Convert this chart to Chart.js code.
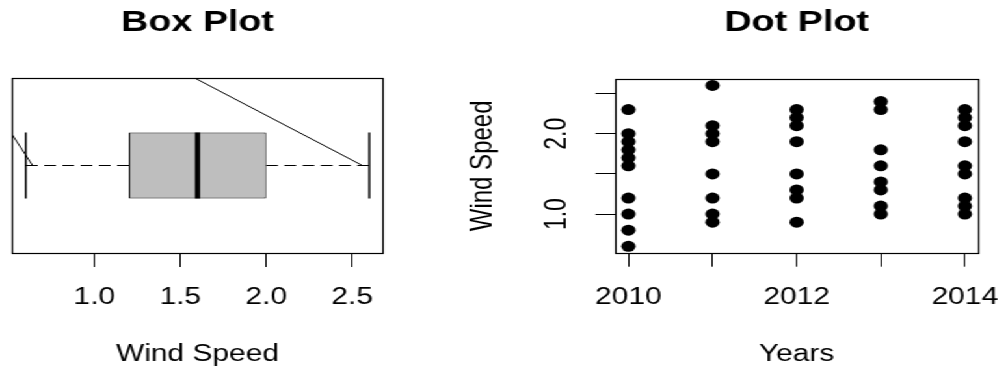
<!DOCTYPE html>
<html>
<head>
<meta charset="utf-8">
<script src="https://cdn.jsdelivr.net/npm/chart.js@4"></script>
<style>
  html, body { margin: 0; padding: 0; background: #fff; overflow: hidden; }
  /* the reference is stretched sideways, so draw narrow and widen */
  #wrap { position: absolute; left: 0; top: 0; width: 775px; height: 370px;
          display: flex; transform: scaleX(1.30065); transform-origin: 0 0; }
  canvas { display: block; }
</style>
</head>
<body>
<div id="wrap">
  <canvas id="boxChart" width="340" height="370" style="width:340px;height:370px"></canvas>
  <canvas id="dotChart" width="435" height="370" style="width:435px;height:370px"></canvas>
</div>
<script>
//----DATA----
const years = [2010, 2011, 2012, 2013, 2014];
const speed2010 = [2.3, 2.0, 1.9, 1.8, 1.7, 1.6, 1.2, 1.0, 0.8, 0.6];
const speed2011 = [2.6, 2.1, 2.0, 1.9, 1.5, 1.2, 1.0, 0.9];
const speed2012 = [2.3, 2.2, 2.1, 1.9, 1.5, 1.3, 1.2, 0.9];
const speed2013 = [2.4, 2.3, 1.8, 1.6, 1.4, 1.3, 1.1, 1.0];
const speed2014 = [2.3, 2.2, 2.1, 1.9, 1.6, 1.5, 1.2, 1.1, 1.0];
const speedsByYear = [speed2010, speed2011, speed2012, speed2013, speed2014];

// min, Q1, median, Q3, max
const boxStats = [0.6, 1.2, 1.6, 2.0, 2.6];
const boxTicks = [1.0, 1.5, 2.0, 2.5];
const dotYTicks = [1.0, 1.5, 2.0, 2.5];
// the stray line that crosses the box plot
const strayX = [2.56, -0.37, 0.64];
const strayY = [1.0, 2.59, 1.0];

const FONT = "'Liberation Sans', Arial, sans-serif";
Chart.defaults.font.family = FONT;
Chart.defaults.color = '#000';
Chart.defaults.animation = false;

//----PLUGINS----
const frame = {
    id: 'frame',
    afterDatasetsDraw(chart) {
        const { ctx, chartArea: { left, top, right, bottom } } = chart;
        const l = Math.round(left) + 0.5, t = Math.round(top) + 0.5;
        ctx.save();
        ctx.strokeStyle = '#000';
        ctx.lineWidth = 1.2;
        ctx.strokeRect(l, t, Math.round(right - left), Math.round(bottom - top));
        ctx.restore();
    }
};

const tickGrid = { drawOnChartArea: false, drawTicks: true, color: '#000', lineWidth: 1 };
const setTicks = (vals) => (scale) => { scale.ticks = vals.map(v => ({ value: v })); };
// keep the x axis at a fixed height and stop end labels from pushing the plot in
const fixX = (h) => (s) => { s.height = h; s.paddingLeft = 0; s.paddingRight = 0; };

//----BOX PLOT----
const boxY = 1, boxHalf = 0.2;
const [wMin, q1, med, q3, wMax] = boxStats;
const seg = (x1, y1, x2, y2, extra) => Object.assign({
    type: 'scatter', showLine: true, pointRadius: 0, borderColor: '#000',
    borderWidth: 1, data: [{ x: x1, y: y1 }, { x: x2, y: y2 }], order: 1
}, extra);

new Chart(document.getElementById('boxChart'), {
    type: 'scatter',
    data: {
        datasets: [
            {
                type: 'bar', indexAxis: 'y',
                data: [{ x: [q1, q3], y: boxY }],
                backgroundColor: '#BEBEBE', borderColor: '#000', borderWidth: 1,
                borderSkipped: false, barPercentage: 1, categoryPercentage: 0.377,
                order: 5
            },
            seg(med, boxY - boxHalf, med, boxY + boxHalf, { borderWidth: 4, order: 0 }),
            seg(q1, boxY, wMin, boxY, { borderDash: [9, 5] }),
            seg(q3, boxY, wMax, boxY, { borderDash: [9, 5] }),
            seg(wMin, boxY - boxHalf, wMin, boxY + boxHalf, { borderWidth: 1.5 }),
            seg(wMax, boxY - boxHalf, wMax, boxY + boxHalf, { borderWidth: 1.5 }),
            {
                type: 'scatter', showLine: true, pointRadius: 0, borderColor: '#000', borderWidth: 1,
                data: strayX.map((x, i) => ({ x, y: strayY[i] })), order: 1
            }
        ]
    },
    options: {
        responsive: false,
        layout: { padding: { left: 9.2, right: 45.5, top: 0, bottom: 0 } },
        scales: {
            x: {
                type: 'linear', position: 'bottom', min: 0.52, max: 2.68,
                afterBuildTicks: setTicks(boxTicks),
                afterFit: fixX(117),
                grid: Object.assign({ tickLength: 14 }, tickGrid),
                border: { display: false },
                ticks: { autoSkip: false, maxRotation: 0, padding: 17.2, font: { size: 23 },
                         callback: (v) => v.toFixed(1) },
                title: { display: true, text: 'Wind Speed', font: { size: 23 }, padding: { top: 0, bottom: 1.3 } }
            },
            y: {
                type: 'linear', display: false, offset: false, min: 0.47, max: 1.53,
                afterBuildTicks: setTicks([boxY])
            }
        },
        plugins: {
            legend: { display: false },
            tooltip: { enabled: false },
            title: { display: true, text: 'Box Plot', fullSize: false,
                     font: { size: 29, weight: 'bold' }, padding: { top: 5.4, bottom: 37.8 } }
        }
    },
    plugins: [frame]
});

//----DOT PLOT----
const dots = [];
years.forEach((yr, i) => speedsByYear[i].forEach(v => dots.push({ x: yr, y: v })));

new Chart(document.getElementById('dotChart'), {
    type: 'scatter',
    data: {
        datasets: [{
            data: dots, pointRadius: 5.5, pointBorderWidth: 0,
            backgroundColor: '#000', borderColor: '#000'
        }]
    },
    options: {
        responsive: false,
        layout: { padding: { left: 0, right: 22.8, top: 0, bottom: 0 } },
        scales: {
            x: {
                type: 'linear', position: 'bottom', min: 2009.84, max: 2014.16,
                afterBuildTicks: setTicks(years),
                afterFit: fixX(117.3),
                grid: Object.assign({ tickLength: 14 }, tickGrid),
                border: { display: false },
                ticks: { autoSkip: false, maxRotation: 0, padding: 17.2, font: { size: 23 },
                         callback: (v) => (v % 2 === 0 ? String(v) : '') },
                title: { display: true, text: 'Years', font: { size: 23 }, padding: { top: 0, bottom: 1.3 } }
            },
            y: {
                type: 'linear', position: 'left', min: 0.52, max: 2.68,
                afterBuildTicks: setTicks(dotYTicks),
                afterFit: (s) => { s.width = 132.8; },
                grid: Object.assign({ tickLength: 15 }, tickGrid),
                border: { display: false },
                ticks: { autoSkip: false, minRotation: 90, maxRotation: 90, crossAlign: 'center',
                         padding: 12.8, font: { size: 23 },
                         callback: (v) => (Number.isInteger(v) ? v.toFixed(1) : '') },
                title: { display: true, text: 'Wind Speed', font: { size: 24 }, padding: { top: 16.6, bottom: 0 } }
            }
        },
        plugins: {
            legend: { display: false },
            tooltip: { enabled: false },
            title: { display: true, text: 'Dot Plot', fullSize: false,
                     font: { size: 29, weight: 'bold' }, padding: { top: 5.4, bottom: 38.8 } }
        }
    },
    plugins: [frame]
});
</script>
</body>
</html>
